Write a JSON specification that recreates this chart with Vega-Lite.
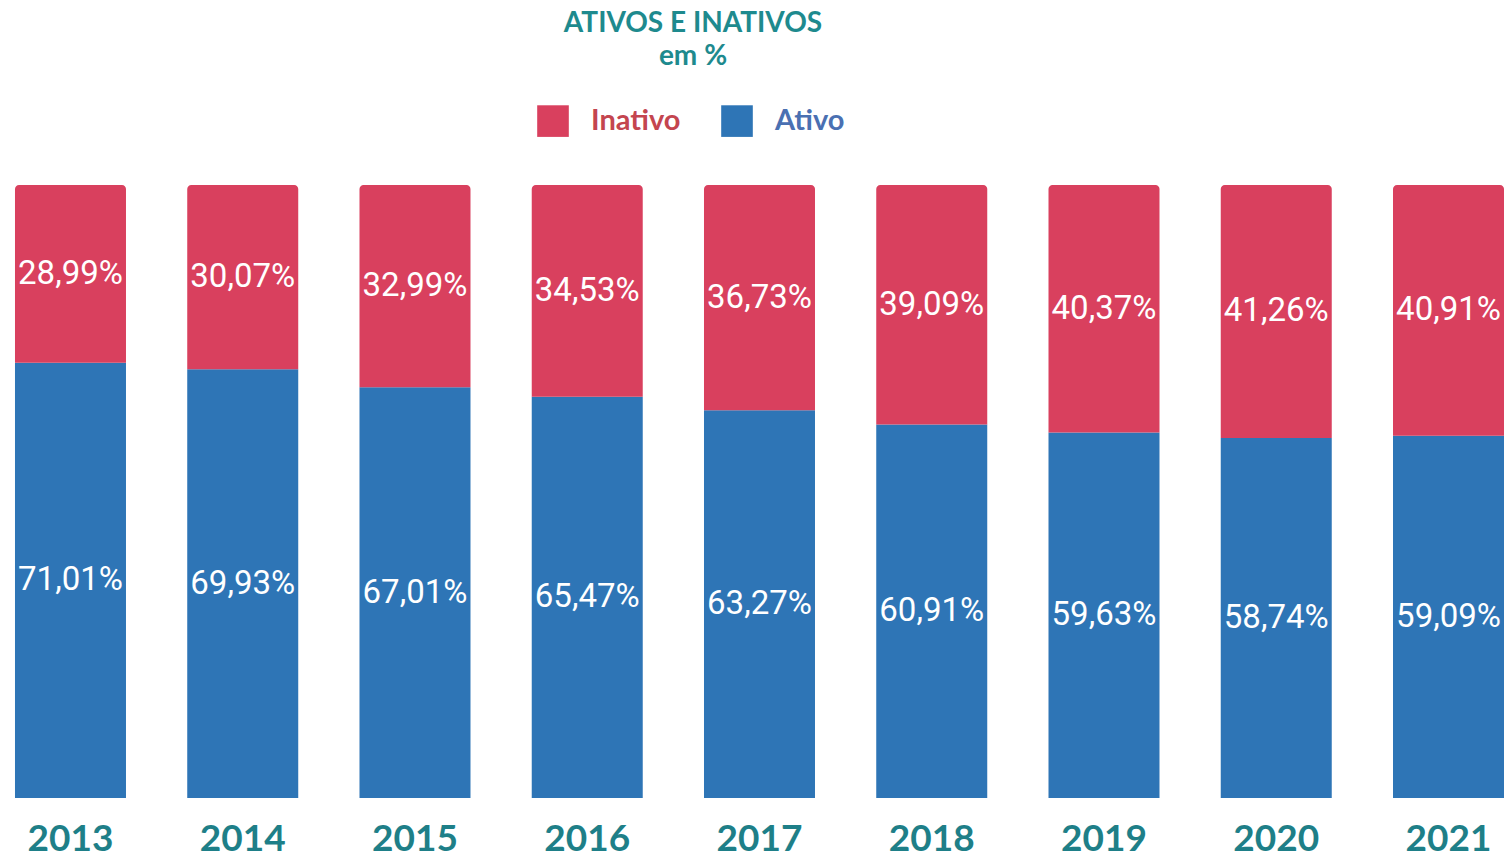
{
  "$schema": "https://vega.github.io/schema/vega-lite/v6.json",
  "width": 1504,
  "height": 613,
  "autosize": {"type": "none"},
  "padding": {"top": 185, "left": 0, "right": 0, "bottom": 62},
  "background": "white",
  "title": {
    "text": ["ATIVOS E INATIVOS", "em %"],
    "anchor": "middle",
    "dx": -59,
    "color": "#1E8A8E",
    "font": "Lato",
    "fontSize": 28,
    "fontWeight": "bold",
    "lineHeight": 33,
    "offset": 34
  },
  "data": {
    "values": [
      {"ano": "2013", "tipo": "Inativo", "valor": 28.99},
      {"ano": "2013", "tipo": "Ativo", "valor": 71.01},
      {"ano": "2014", "tipo": "Inativo", "valor": 30.07},
      {"ano": "2014", "tipo": "Ativo", "valor": 69.93},
      {"ano": "2015", "tipo": "Inativo", "valor": 32.99},
      {"ano": "2015", "tipo": "Ativo", "valor": 67.01},
      {"ano": "2016", "tipo": "Inativo", "valor": 34.53},
      {"ano": "2016", "tipo": "Ativo", "valor": 65.47},
      {"ano": "2017", "tipo": "Inativo", "valor": 36.73},
      {"ano": "2017", "tipo": "Ativo", "valor": 63.27},
      {"ano": "2018", "tipo": "Inativo", "valor": 39.09},
      {"ano": "2018", "tipo": "Ativo", "valor": 60.91},
      {"ano": "2019", "tipo": "Inativo", "valor": 40.37},
      {"ano": "2019", "tipo": "Ativo", "valor": 59.63},
      {"ano": "2020", "tipo": "Inativo", "valor": 41.26},
      {"ano": "2020", "tipo": "Ativo", "valor": 58.74},
      {"ano": "2021", "tipo": "Inativo", "valor": 40.91},
      {"ano": "2021", "tipo": "Ativo", "valor": 59.09}
    ]
  },
  "transform": [
    {"stack": "valor", "groupby": ["ano"], "sort": [{"field": "tipo", "order": "ascending"}], "as": ["v0", "v1"]},
    {"calculate": "(datum.v0 + datum.v1) / 2", "as": "mid"},
    {"calculate": "replace(format(datum.valor, '.2f'), '.', ',') + '%'", "as": "rotulo"}
  ],
  "encoding": {
    "x": {
      "field": "ano",
      "type": "nominal",
      "scale": {"paddingInner": 0.3556, "paddingOuter": 0.0435, "align": 1},
      "axis": {
        "title": null,
        "labelAngle": 0,
        "domain": false,
        "ticks": false,
        "labelFont": "Lato",
        "labelFontSize": 37,
        "labelFontWeight": "bold",
        "labelColor": "#1E7F88",
        "labelPadding": 23,
        "labelBaseline": "top"
      }
    }
  },
  "layer": [
    {
      "transform": [{"filter": "datum.tipo == 'Ativo'"}],
      "mark": {"type": "bar"},
      "encoding": {
        "y": {"field": "v0", "type": "quantitative", "scale": {"domain": [0, 100], "nice": false}, "axis": null},
        "y2": {"field": "v1"},
        "color": {
          "field": "tipo",
          "type": "nominal",
          "scale": {"domain": ["Inativo", "Ativo"], "range": ["#D9405E", "#2E75B6"]},
          "legend": {
            "title": null,
            "orient": "none",
            "direction": "horizontal",
            "legendX": 537,
            "legendY": -80,
            "symbolType": "square",
            "symbolSize": 1000,
            "symbolStrokeWidth": 0,
            "symbolOpacity": 1,
            "labelFont": "Lato",
            "labelFontSize": 29,
            "labelFontWeight": "bold",
            "labelOffset": 22,
            "columnPadding": 40,
            "labelLimit": 300,
            "encode": {
              "labels": {
                "update": {
                  "fill": {"signal": "datum.label == 'Inativo' ? '#C4454F' : '#4A70B2'"}
                }
              }
            }
          }
        }
      }
    },
    {
      "transform": [{"filter": "datum.tipo == 'Inativo'"}],
      "mark": {"type": "bar", "cornerRadiusTopLeft": 4, "cornerRadiusTopRight": 4},
      "encoding": {
        "y": {"field": "v0", "type": "quantitative"},
        "y2": {"field": "v1"},
        "color": {"field": "tipo", "type": "nominal"}
      }
    },
    {
      "mark": {"type": "text", "font": "Roboto", "fontSize": 33, "fontWeight": "normal", "color": "white", "baseline": "middle", "align": "center"},
      "encoding": {
        "y": {"field": "mid", "type": "quantitative"},
        "text": {"field": "rotulo"}
      }
    }
  ],
  "config": {
    "view": {"stroke": null}
  }
}
